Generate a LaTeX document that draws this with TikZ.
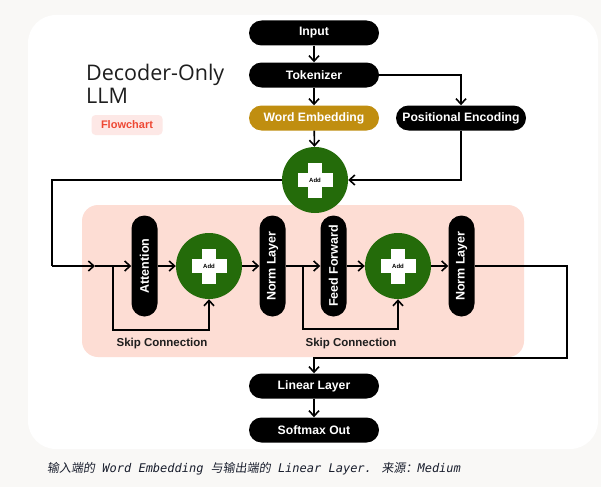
\documentclass[tikz,border=0pt]{standalone}
\usepackage{fontspec}
\setmainfont{Liberation Sans}
\newfontfamily\titlefont{Open Sans}
\newfontfamily\capfont{DejaVu Sans Mono}
\newfontfamily\cjk[FakeSlant=0.15]{Noto Sans CJK SC}
\usepackage{tikz}
\usetikzlibrary{arrows.meta, positioning, calc}
\definecolor{pagegrey}{RGB}{249,248,246}
\definecolor{wordgold}{RGB}{192,142,16}
\definecolor{addgreen}{RGB}{36,107,10}
\definecolor{blockpink}{RGB}{253,221,212}
\definecolor{badgepink}{RGB}{253,232,230}
\definecolor{badgered}{RGB}{238,72,52}
\definecolor{mydark}{RGB}{30,30,30}
\definecolor{capdark}{RGB}{25,30,45}
\tikzset{
  pill/.style={rectangle, fill=black, text=white, rounded corners=12.5pt,
    minimum width=130pt, minimum height=25pt, inner sep=0pt,
    font=\fontsize{12.2}{14}\selectfont\bfseries},
  goldpill/.style={pill, fill=wordgold},
  vpill/.style={pill, rotate=90, minimum width=101pt, minimum height=26pt,
    rounded corners=13pt, font=\fontsize{12.5}{14}\selectfont\bfseries},
  addnode/.style={circle, fill=addgreen, minimum size=66pt, inner sep=0pt,
    font=\fontsize{6}{7}\selectfont\bfseries, text=black,
    path picture={
      \fill[white] ([xshift=-7pt,yshift=-17.5pt]path picture bounding box.center)
        rectangle ([xshift=7pt,yshift=17.5pt]path picture bounding box.center);
      \fill[white] ([xshift=-17.5pt,yshift=-7pt]path picture bounding box.center)
        rectangle ([xshift=17.5pt,yshift=7pt]path picture bounding box.center);}},
  skiplabel/.style={text=mydark, inner sep=0pt, font=\fontsize{11.5}{13}\selectfont\bfseries},
  arrow/.style={-{Straight Barb[length=5.5pt,width=10pt,line width=1.6pt]}, line width=1.6pt, color=black},
  line/.style={line width=1.6pt, color=black}
}

\begin{document}
\begin{tikzpicture}[x=1pt, y=-1pt]
  \useasboundingbox (0,0) rectangle (601,487);

  % Page and card
  \fill[pagegrey] (0,0) rectangle (601,487);
  \fill[white, rounded corners=28pt] (28,15) rectangle (598,449);
  \fill[blockpink, rounded corners=16pt] (82,205) rectangle (524,357);

  % Title
  \node[anchor=north west, align=left, inner sep=0pt, text=mydark,
    font=\titlefont\fontsize{21.5}{23}\selectfont] (title) at (86,64) {Decoder-Only\\LLM};
  \node[fill=badgepink, text=badgered, rounded corners=4pt, minimum width=71pt,
    minimum height=20pt, inner sep=0pt, font=\fontsize{11}{13}\selectfont\bfseries]
    (badge) at (127,125) {Flowchart};

  % Input side
  \node[pill] (input) at (314,33) {Input};
  \node[pill] (tokenizer) at (314,75) {Tokenizer};
  \node[goldpill] (wordemb) at (314,118) {Word Embedding};
  \node[pill] (posenc) at (461,118) {Positional Encoding};
  \node[addnode] (add0) at (315,180) {Add};

  % Decoder block
  \node[vpill] (attn) at (144.5,266) {Attention};
  \node[addnode] (add1) at (209,266) {Add};
  \node[vpill] (norm1) at (272.5,266) {Norm Layer};
  \node[vpill] (ff) at (333.5,266) {Feed Forward};
  \node[addnode] (add2) at (398,266) {Add};
  \node[vpill] (norm2) at (461.5,266) {Norm Layer};
  \node[skiplabel] (skiplbl1) at (162,343.5) {Skip Connection};
  \node[skiplabel] (skiplbl2) at (351,343.5) {Skip Connection};

  % Output side
  \node[pill] (linear) at (314,386) {Linear Layer};
  \node[pill] (softmax) at (314,430) {Softmax Out};

  % Bend points
  \coordinate (loopleft) at (52,266);
  \coordinate (loopin) at (95,266);
  \coordinate (skip1) at (113,266);
  \coordinate (skip1low) at (113,330);
  \coordinate (skip2) at (303,266);
  \coordinate (skip2low) at (303,329);
  \coordinate (outright) at (567,266);
  \coordinate (outmid) at (314,358);

  % Connectors
  \draw[arrow] (input) -- (tokenizer);
  \draw[arrow] (tokenizer) -- (wordemb);
  \draw[arrow] (wordemb) -- (add0);
  \draw[arrow] (tokenizer.east) -| (posenc.north);
  \draw[arrow] (posenc.south) |- (add0.east);
  \draw[line] (add0.west) -| (loopleft);
  \draw[arrow] (loopleft) -- (loopin);
  \draw[arrow] (loopin) -- (attn);
  \draw[arrow] (skip1) -- (skip1low) -| (add1.south);
  \draw[arrow] (attn) -- (add1);
  \draw[arrow] (add1) -- (norm1);
  \draw[arrow] (norm1) -- (ff);
  \draw[arrow] (skip2) -- (skip2low) -| (add2.south);
  \draw[arrow] (ff) -- (add2);
  \draw[arrow] (add2) -- (norm2);
  \draw[arrow] (norm2) -- (outright) |- (outmid) -- (linear);
  \draw[arrow] (linear) -- (softmax);

  % Caption
  \node[anchor=west, inner sep=0pt, text=capdark, font=\fontsize{12}{14}\selectfont]
    (caption) at (47,469) {{\cjk 输入端的}{\capfont\itshape\ Word Embedding }{\cjk 与输出端的}{\capfont\itshape\ Linear Layer. }{\cjk 来源：}{\capfont\itshape Medium}};
\end{tikzpicture}
\end{document}
